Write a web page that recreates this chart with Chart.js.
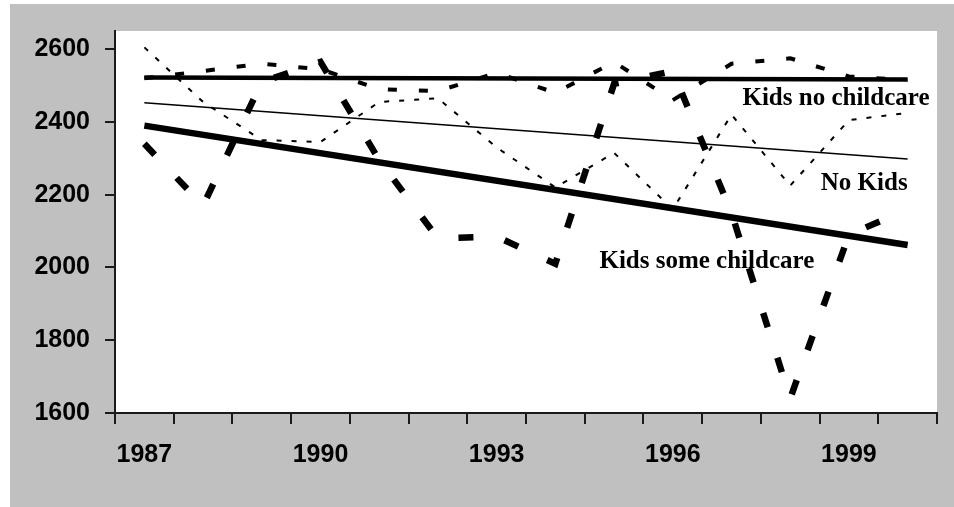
<!DOCTYPE html>
<html>
<head>
<meta charset="utf-8">
<script src="https://cdn.jsdelivr.net/npm/chart.js@4.4.0/dist/chart.umd.min.js"></script>
<style>
    html, body { margin: 0; padding: 0; background: #ffffff; }
    #chart_wrap { width: 954px; height: 507px; }
</style>
</head>
<body>
<div id="chart_wrap"><canvas id="childcare_chart" width="954" height="507"></canvas></div>
<script>
const year_labels = ['1987', '1988', '1989', '1990', '1991', '1992', '1993',
    '1994', '1995', '1996', '1997', '1998', '1999', '2000'];
const shown_year_labels = ['1987', '1990', '1993', '1996', '1999'];
const y_tick_values = [1600, 1800, 2000, 2200, 2400, 2600];

const kids_some_childcare = [2340, 2170, 2510, 2565, 2295, 2080, 2085, 2010, 2505, 2540, 2150, 1640, 2090, 2160];
const kids_no_childcare = [2520, 2540, 2560, 2545, 2490, 2485, 2535, 2480, 2565, 2460, 2560, 2575, 2525, 2515];
const no_kids = [2605, 2455, 2350, 2345, 2455, 2465, 2330, 2220, 2315, 2160, 2420, 2225, 2405, 2425];

// trend lines, value at first and last year
const trend_kids_some_childcare = [2390, 2062];
const trend_kids_no_childcare = [2522, 2517];
const trend_no_kids = [2453, 2298];

const chart_palette = {
    ink: '#000000',
    axis: '#1a1a1a',
    frame: '#c0c0c0',
    plot: '#ffffff',
};

// text notes: anchored on category index and y value
const chart_notes = [
    { text: 'Kids no childcare', at_index: 11.78, at_value: 2465 },
    { text: 'No Kids', at_index: 12.26, at_value: 2230 },
    { text: 'Kids some childcare', at_index: 9.58, at_value: 2016 },
];

function trend_points(values) {
    return [
        { x: year_labels[0], y: values[0] },
        { x: year_labels[year_labels.length - 1], y: values[1] },
    ];
}

function series_style(width, dash) {
    return {
        borderColor: chart_palette.ink,
        backgroundColor: chart_palette.ink,
        borderWidth: width,
        borderDash: dash,
        borderCapStyle: 'butt',
        borderJoinStyle: 'miter',
        pointRadius: 0,
        pointHoverRadius: 0,
        tension: 0,
        fill: false,
    };
}

const backdrop_plugin = {
    id: 'backdrop_plugin',
    beforeDraw(chart) {
        const ctx = chart.ctx;
        const area = chart.chartArea;
        ctx.save();
        ctx.fillStyle = '#ffffff';
        ctx.fillRect(0, 0, chart.width, chart.height);
        ctx.fillStyle = chart_palette.frame;
        ctx.fillRect(10, 4, chart.width - 10, chart.height - 4);
        ctx.fillStyle = chart_palette.plot;
        ctx.fillRect(area.left, area.top, area.right - area.left, area.bottom - area.top);
        ctx.restore();
    },
};

const notes_plugin = {
    id: 'notes_plugin',
    afterDatasetsDraw(chart) {
        const ctx = chart.ctx;
        const x_scale = chart.scales.x;
        const y_scale = chart.scales.y;
        ctx.save();
        ctx.font = 'bold 25px "Liberation Serif", "Times New Roman", serif';
        ctx.fillStyle = chart_palette.ink;
        ctx.textAlign = 'center';
        ctx.textBaseline = 'middle';
        chart_notes.forEach(function (note) {
            ctx.fillText(note.text, x_scale.getPixelForValue(note.at_index), y_scale.getPixelForValue(note.at_value));
        });
        ctx.restore();
    },
};

const tick_font = { family: '"Liberation Sans", Arial, sans-serif', size: 25, weight: 'bold' };

new Chart(document.getElementById('childcare_chart').getContext('2d'), {
    type: 'line',
    data: {
        labels: year_labels,
        datasets: [
            Object.assign({ label: 'Kids some childcare', data: kids_some_childcare }, series_style(6.5, [15, 32])),
            Object.assign({ label: 'Kids no childcare', data: kids_no_childcare }, series_style(4, [9, 22])),
            Object.assign({ label: 'No Kids', data: no_kids }, series_style(2, [5, 10])),
            Object.assign({ label: 'Kids some childcare trend', data: trend_points(trend_kids_some_childcare) }, series_style(6.5, [])),
            Object.assign({ label: 'Kids no childcare trend', data: trend_points(trend_kids_no_childcare) }, series_style(4.5, [])),
            Object.assign({ label: 'No Kids trend', data: trend_points(trend_no_kids) }, series_style(1.5, [])),
        ],
    },
    options: {
        responsive: false,
        animation: false,
        devicePixelRatio: 1,
        layout: { padding: { left: 0, top: 31, right: 17, bottom: 0 } },
        plugins: {
            legend: { display: false },
            tooltip: { enabled: false },
        },
        scales: {
            x: {
                type: 'category',
                offset: true,
                afterFit(scale) { scale.height = 94; },
                border: { display: true, color: chart_palette.axis, width: 2 },
                grid: { offset: true, drawOnChartArea: false, drawTicks: true, tickLength: 11, color: chart_palette.axis, lineWidth: 2 },
                ticks: {
                    autoSkip: false,
                    maxRotation: 0,
                    padding: 16,
                    color: chart_palette.ink,
                    font: tick_font,
                    callback(value) {
                        const label = this.getLabelForValue(value);
                        return shown_year_labels.includes(label) ? label : '';
                    },
                },
            },
            y: {
                min: 1600,
                max: 2650,
                afterBuildTicks(scale) {
                    scale.ticks = y_tick_values.map(function (v) { return { value: v }; });
                },
                afterFit(scale) { scale.width = 115; },
                border: { display: true, color: chart_palette.axis, width: 2 },
                grid: { drawOnChartArea: false, drawTicks: true, tickLength: 10, color: chart_palette.axis, lineWidth: 2 },
                ticks: {
                    padding: 15,
                    color: chart_palette.ink,
                    font: tick_font,
                    callback(value) { return String(value); },
                },
            },
        },
    },
    plugins: [backdrop_plugin, notes_plugin],
});
</script>
</body>
</html>
